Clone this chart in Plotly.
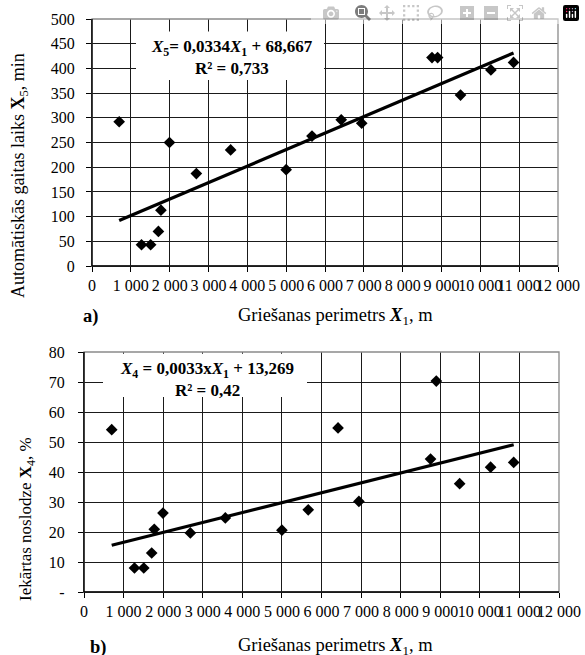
import plotly.graph_objects as go

# ---------------- data ----------------
perimeter_x1 = [700, 1275, 1510, 1710, 1775, 1995, 2687, 3570, 5000,
                5665, 6418, 6945, 8755, 8900, 9490, 10272, 10855]
auto_time_x5 = [292, 43, 43, 70, 113, 250, 187, 235, 195,
                263, 296, 289, 422, 422, 346, 397, 412]
load_x4 = [54.1, 8.0, 8.0, 13.0, 20.9, 26.3, 19.7, 24.7, 20.6,
           27.4, 54.7, 30.2, 44.3, 70.3, 36.1, 41.6, 43.2]

fit_a = (0.0334, 68.667)   # slope, intercept for X5
fit_b = (0.0033, 13.269)   # slope, intercept for X4

x_ticks = list(range(0, 12001, 1000))
x_ticktext = ["0"] + [f"{v // 1000} 000" for v in x_ticks[1:]]
ya_ticks = list(range(0, 501, 50))
yb_ticks = list(range(0, 81, 10))
yb_ticktext = ["-"] + [str(v) for v in yb_ticks[1:]]

eq_a = "<b><i>X</i><sub>5</sub>= 0,0334<i>X</i><sub>1</sub> + 68,667</b>"
r2_a = "<b>R² = 0,733</b>"
eq_b = "<b><i>X</i><sub>4</sub> = 0,0033x<i>X</i><sub>1</sub> + 13,269</b>"
r2_b = "<b>R² = 0,42</b>"

title_y_a = "Automātiskās gaitas laiks <b>X</b><sub>5</sub>, min"
title_y_b = "Iekārtas noslodze <b>X</b><sub>4</sub>, %"
title_x = "Griešanas perimetrs <b><i>X</i></b><sub>1</sub>, m"

# ---------------- layout helpers ----------------
W, H = 585, 655
FONT = "Liberation Serif"


def px(x):
    return x / W


def py(y):
    return 1 - y / H


xmin, xmax = min(perimeter_x1), max(perimeter_x1)

fig = go.Figure()

fig.add_trace(go.Scatter(x=perimeter_x1, y=auto_time_x5, mode="markers",
                         marker=dict(symbol="diamond", size=9, color="black"),
                         xaxis="x", yaxis="y", showlegend=False))
fig.add_trace(go.Scatter(x=[xmin, xmax],
                         y=[fit_a[0] * xmin + fit_a[1], fit_a[0] * xmax + fit_a[1]],
                         mode="lines", line=dict(color="black", width=3.2),
                         xaxis="x", yaxis="y", showlegend=False))
fig.add_trace(go.Scatter(x=perimeter_x1, y=load_x4, mode="markers",
                         marker=dict(symbol="diamond", size=9, color="black"),
                         xaxis="x2", yaxis="y2", showlegend=False))
fig.add_trace(go.Scatter(x=[xmin, xmax],
                         y=[fit_b[0] * xmin + fit_b[1], fit_b[0] * xmax + fit_b[1]],
                         mode="lines", line=dict(color="black", width=3.2),
                         xaxis="x2", yaxis="y2", showlegend=False))

axis_common = dict(showgrid=True, gridcolor="#1a1a1a", gridwidth=1,
                   showline=True, linecolor="black", linewidth=1.3,
                   ticks="outside", ticklen=5, tickcolor="black", tickwidth=1,
                   zeroline=False, tickfont=dict(family=FONT, size=16, color="black"))

fig.update_layout(
    template="none",
    width=W, height=H, margin=dict(l=0, r=0, t=0, b=0, pad=0),
    paper_bgcolor="white", plot_bgcolor="white",
    font=dict(family=FONT, color="black"),
    showlegend=False,
    xaxis=dict(domain=[px(92), px(558)], anchor="y", range=[0, 12000],
               tickvals=x_ticks, ticktext=x_ticktext, tickangle=0, **axis_common),
    yaxis=dict(domain=[py(266), py(19)], anchor="x", range=[0, 500],
               tickvals=ya_ticks, ticklabelstandoff=8, **axis_common),
    xaxis2=dict(domain=[px(84), px(559)], anchor="y2", range=[0, 12000],
                tickvals=x_ticks, ticktext=x_ticktext, tickangle=0, **axis_common),
    yaxis2=dict(domain=[py(592), py(352)], anchor="x2", range=[0, 80],
                tickvals=yb_ticks, ticktext=yb_ticktext, ticklabelstandoff=10,
                **axis_common),
)

# white boxes behind the equations and grey outer borders
fig.add_shape(type="rect", xref="x", yref="y", x0=1133, x1=5974, y0=376.5, y1=474.5,
              fillcolor="white", line=dict(width=0), layer="above")
fig.add_shape(type="rect", xref="x2", yref="y2", x0=480, x1=5634, y0=65, y1=79.4,
              fillcolor="white", line=dict(width=0), layer="above")
fig.add_shape(type="rect", xref="x domain", yref="y domain", x0=0, x1=1, y0=0, y1=1,
              line=dict(color="#8a8a8a", width=1.3), fillcolor="rgba(0,0,0,0)",
              layer="above")
fig.add_shape(type="rect", xref="x2 domain", yref="y2 domain", x0=0, x1=1, y0=0, y1=1,
              line=dict(color="#8a8a8a", width=1.3), fillcolor="rgba(0,0,0,0)",
              layer="above")
# redraw the black left/bottom axis lines over the grey border
for xr, yr in (("x domain", "y domain"), ("x2 domain", "y2 domain")):
    fig.add_shape(type="line", xref=xr, yref=yr, x0=0, x1=0, y0=0, y1=1,
                  line=dict(color="black", width=1.3), layer="above")
    fig.add_shape(type="line", xref=xr, yref=yr, x0=0, x1=1, y0=0, y1=0,
                  line=dict(color="black", width=1.3), layer="above")

ann = []
eq_font = dict(family=FONT, size=17, color="black")
ann.append(dict(text=eq_a, x=px(232), y=py(48), xref="paper", yref="paper",
                showarrow=False, font=eq_font, xanchor="center", yanchor="middle"))
ann.append(dict(text=r2_a, x=px(232), y=py(68), xref="paper", yref="paper",
                showarrow=False, font=eq_font, xanchor="center", yanchor="middle"))
ann.append(dict(text=eq_b, x=px(207), y=py(370), xref="paper", yref="paper",
                showarrow=False, font=eq_font, xanchor="center", yanchor="middle"))
ann.append(dict(text=r2_b, x=px(207), y=py(390), xref="paper", yref="paper",
                showarrow=False, font=eq_font, xanchor="center", yanchor="middle"))

ann.append(dict(text=title_y_a, x=px(20), y=py(176), xref="paper", yref="paper",
                textangle=-90, showarrow=False,
                font=dict(family=FONT, size=18, color="black"),
                xanchor="center", yanchor="middle"))
ann.append(dict(text=title_y_b, x=px(27), y=py(519), xref="paper", yref="paper",
                textangle=-90, showarrow=False,
                font=dict(family=FONT, size=17, color="black"),
                xanchor="center", yanchor="middle"))
xt_font = dict(family=FONT, size=18.5, color="black")
ann.append(dict(text=title_x, x=px(335), y=py(316), xref="paper", yref="paper",
                showarrow=False, font=xt_font, xanchor="center", yanchor="middle"))
ann.append(dict(text=title_x, x=px(335), y=py(646), xref="paper", yref="paper",
                showarrow=False, font=xt_font, xanchor="center", yanchor="middle"))
ann.append(dict(text="<b>a)</b>", x=px(90), y=py(316), xref="paper", yref="paper",
                showarrow=False, font=xt_font, xanchor="center", yanchor="middle"))
ann.append(dict(text="<b>b)</b>", x=px(98), y=py(647), xref="paper", yref="paper",
                showarrow=False, font=xt_font, xanchor="center", yanchor="middle"))
fig.update_layout(annotations=ann)

fig.write_html("out.html",
               post_script="document.body.style.margin='0';"
                           "document.body.style.overflow='hidden';")
